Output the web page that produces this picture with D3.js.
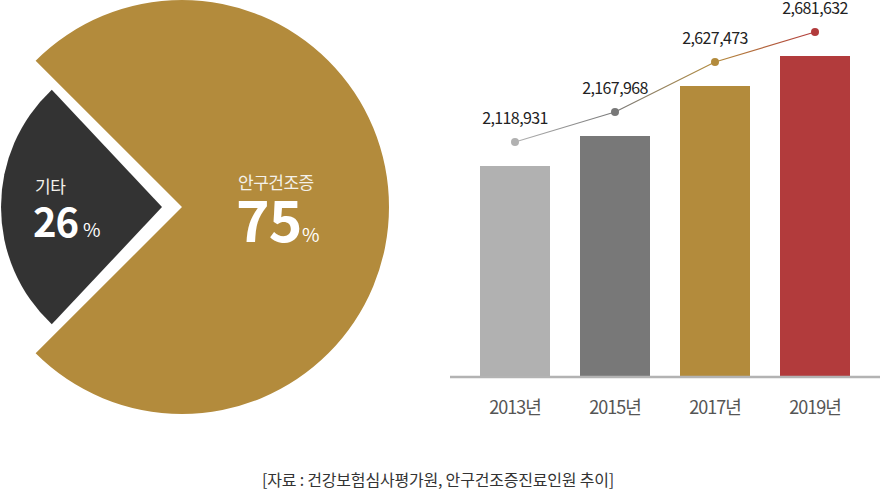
<!DOCTYPE html>
<html>
<head>
<meta charset="utf-8">
<script src="https://cdn.jsdelivr.net/npm/d3@7"></script>
<style>
  html, body { margin: 0; padding: 0; background: #fff; }
  svg { display: block; font-family: "Noto Sans CJK KR", "Noto Sans", sans-serif; }
</style>
</head>
<body>
<div id="chart"></div>
<script>
'use strict';

// pie data (percent)
const pieLabels = ['안구건조증', '기타'];
const pieShares = [75, 26];
const pieColors = ['#b38b3c', '#333333'];

// bar data
const years      = ['2013년', '2015년', '2017년', '2019년'];
const patients   = [2118931, 2167968, 2627473, 2681632];
const barLevels  = [21, 24, 29, 32];   // bar heights as drawn in the picture (not to scale with patients)
const barColors  = ['#b1b1b1', '#787878', '#b38b3c', '#b23b3c'];

const caption = '[자료 : 건강보험심사평가원, 안구건조증진료인원 추이]';

const width  = 880;
const height = 493;

const svg = d3.select('#chart').append('svg')
    .attr('width', width)
    .attr('height', height);

// ---------- pie ----------
const angle = d3.scaleLinear().domain([0, 100]).range([0, 2 * Math.PI]);

// big slice centered to the right, small slice exploded to the left
let goldSpan = angle(pieShares[0]);
let darkSpan = angle(pieShares[1]);
let slices = [
    {cx: 182, cy: 207, r: 207, start: Math.PI / 2 - goldSpan / 2, end: Math.PI / 2 + goldSpan / 2},
    {cx: 162, cy: 207, r: 161, start: 1.5 * Math.PI - darkSpan / 2, end: 1.5 * Math.PI + darkSpan / 2}
];

const arc = d3.arc().innerRadius(0);

slices.forEach(function(s, i) {
    svg.append('path')
        .attr('transform', 'translate(' + s.cx + ',' + s.cy + ')')
        .attr('d', arc({outerRadius: s.r, startAngle: s.start, endAngle: s.end}))
        .attr('fill', pieColors[i]);
});

// pie labels
let pieText = [
    {x: 238, nameY: 189, numY: 242, numSize: 57, pctX: 302, nameSize: 17},
    {x: 35,  nameY: 193, numY: 237, numSize: 40, pctX: 83,  nameSize: 17}
];
pieText.forEach(function(t, i) {
    svg.append('text')
        .attr('x', t.x).attr('y', t.nameY)
        .attr('fill', '#f4f1ea')
        .attr('font-size', t.nameSize)
        .attr('letter-spacing', -0.5)
        .text(pieLabels[i]);
    svg.append('text')
        .attr('x', t.x - 2).attr('y', t.numY)
        .attr('fill', '#fff')
        .attr('font-size', t.numSize)
        .attr('font-weight', 'bold')
        .attr('letter-spacing', -1)
        .text(pieShares[i]);
    svg.append('text')
        .attr('x', t.pctX).attr('y', t.numY)
        .attr('fill', '#fff')
        .attr('font-size', 19)
        .text('%');
});

// ---------- bars ----------
const baseY = 376;
const x = d3.scaleBand()
    .domain(years)
    .range([465, 865])
    .paddingInner(0.3)
    .paddingOuter(0.15);

const y = d3.scaleLinear()
    .domain([0, d3.max(barLevels)])
    .range([baseY, 56]);

svg.selectAll('rect.bar')
    .data(years)
    .enter()
    .append('rect')
    .attr('class', 'bar')
    .attr('x', function(d) { return x(d) })
    .attr('y', function(d, i) { return y(barLevels[i]) })
    .attr('width', x.bandwidth())
    .attr('height', function(d, i) { return baseY - y(barLevels[i]) })
    .attr('fill', function(d, i) { return barColors[i] });

// baseline
svg.append('line')
    .attr('x1', 450).attr('x2', 880)
    .attr('y1', baseY + 1).attr('y2', baseY + 1)
    .attr('stroke', '#b3b3b3')
    .attr('stroke-width', 2.5);

// year labels
let axis = d3.axisBottom(x).tickSize(0).tickPadding(25);
let axisG = svg.append('g')
    .attr('transform', 'translate(0,' + baseY + ')')
    .call(axis);
axisG.select('.domain').remove();
axisG.selectAll('text')
    .attr('font-family', '"Noto Sans CJK KR", sans-serif')
    .attr('font-size', 18)
    .attr('letter-spacing', -1)
    .attr('fill', '#555');

// trend line with dots
const dotGap = 24;
let pts = years.map(function(d, i) {
    return {x: x(d) + x.bandwidth() / 2, y: y(barLevels[i]) - dotGap, c: barColors[i], v: patients[i]};
});

let defs = svg.append('defs');
for (let i = 0; i < pts.length - 1; i++) {
    let g = defs.append('linearGradient')
        .attr('id', 'seg' + i)
        .attr('gradientUnits', 'userSpaceOnUse')
        .attr('x1', pts[i].x).attr('y1', pts[i].y)
        .attr('x2', pts[i + 1].x).attr('y2', pts[i + 1].y);
    g.append('stop').attr('offset', 0).attr('stop-color', pts[i].c);
    g.append('stop').attr('offset', 1).attr('stop-color', pts[i + 1].c);
    svg.append('line')
        .attr('x1', pts[i].x).attr('y1', pts[i].y)
        .attr('x2', pts[i + 1].x).attr('y2', pts[i + 1].y)
        .attr('stroke', 'url(#seg' + i + ')')
        .attr('stroke-width', 1.2);
}

svg.selectAll('circle.dot')
    .data(pts)
    .enter()
    .append('circle')
    .attr('class', 'dot')
    .attr('cx', function(d) { return d.x })
    .attr('cy', function(d) { return d.y })
    .attr('r', 4)
    .attr('fill', function(d) { return d.c });

const fmt = d3.format(',');
svg.selectAll('text.val')
    .data(pts)
    .enter()
    .append('text')
    .attr('class', 'val')
    .attr('x', function(d) { return d.x })
    .attr('y', function(d) { return d.y - 18 })
    .attr('text-anchor', 'middle')
    .attr('font-size', 16)
    .attr('letter-spacing', -0.6)
    .attr('fill', '#222')
    .text(function(d) { return fmt(d.v) });

// caption
svg.append('text')
    .attr('x', 438).attr('y', 486)
    .attr('text-anchor', 'middle')
    .attr('font-size', 16)
    .attr('letter-spacing', -0.2)
    .attr('fill', '#333')
    .text(caption);
</script>
</body>
</html>
